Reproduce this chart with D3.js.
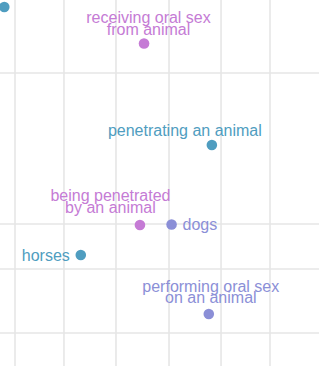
<!DOCTYPE html>
<html>
<head>
    <meta charset="UTF-8">
    <script src="https://d3js.org/d3.v7.min.js"></script>
    <style>
     body { margin: 0; background: #fff; }
    </style>
</head>

<body>
    <div id="chart"></div>
    <script>
     // Chart data (units are arbitrary)
     const labels = [
         "",
         "receiving oral sex\nfrom animal",
         "penetrating an animal",
         "being penetrated\nby an animal",
         "dogs",
         "horses",
         "performing oral sex\non an animal"
     ];
     const groups = ["blue", "pink", "blue", "pink", "purple", "blue", "purple"];
     const xValues = [-2.1, 25.3, 38.6, 24.5, 30.7, 12.9, 38.0];
     const yValues = [65.2, 57.9, 37.6, 21.6, 21.7, 15.6, 3.8];
     const xTicks = [0, 9.6, 19.8, 30.2, 40.4, 50];
     const yTicks = [0, 12.8, 21.8, 52];

     // Where each label sits relative to its dot
     const labelLayout = [
         {dx: 0, dy: 0, anchor: "middle"},
         {dx: 4.5, dy: -9, anchor: "middle"},
         {dx: -27, dy: -9.5, anchor: "middle"},
         {dx: -29.5, dy: -12.5, anchor: "middle"},
         {dx: 11, dy: 5.5, anchor: "start"},
         {dx: -11, dy: 5.5, anchor: "end"},
         {dx: 2, dy: -11, anchor: "middle"}
     ];

     const width = 319;
     const height = 366;
     const lineGap = 11.2;

     const color = d3.scaleOrdinal()
         .domain(["blue", "pink", "purple"])
         .range(["#4f9dc0", "#c57bd5", "#8b8fd7"]);

     const x = d3.scaleLinear().domain([0, 50]).range([15, 270]);
     const y = d3.scaleLinear().domain([0, 52]).range([333, 73]);

     let svg = d3.select("#chart").append("svg")
         .attr("width", width)
         .attr("height", height);

     // grid
     svg.append("g")
        .selectAll("line.vgrid")
        .data(xTicks)
        .enter()
        .append("line")
        .attr("class", "vgrid")
        .attr("x1", d => x(d)).attr("x2", d => x(d))
        .attr("y1", 0).attr("y2", height)
        .attr("stroke", "#e6e6e6")
        .attr("stroke-width", 1.6);

     svg.append("g")
        .selectAll("line.hgrid")
        .data(yTicks)
        .enter()
        .append("line")
        .attr("class", "hgrid")
        .attr("x1", 0).attr("x2", width)
        .attr("y1", d => y(d)).attr("y2", d => y(d))
        .attr("stroke", "#e6e6e6")
        .attr("stroke-width", 1.6);

     let data = labels.map((l, i) => ({
         label: l,
         group: groups[i],
         x: xValues[i],
         y: yValues[i],
         pos: labelLayout[i]
     }));

     svg.append("g")
        .selectAll("circle")
        .data(data)
        .enter()
        .append("circle")
        .attr("cx", d => x(d.x))
        .attr("cy", d => y(d.y))
        .attr("r", 5.3)
        .attr("fill", d => color(d.group));

     let texts = svg.append("g")
        .selectAll("text")
        .data(data.filter(d => d.label))
        .enter()
        .append("text")
        .attr("text-anchor", d => d.pos.anchor)
        .attr("fill", d => color(d.group))
        .style("font-family", "'Liberation Sans', Arial, sans-serif")
        .style("font-size", "16px");

     texts.each(function(d) {
         let lines = d.label.split("\n");
         let t = d3.select(this);
         // anchor the last line's baseline, stack the others above it
         lines.forEach((line, j) => {
             t.append("tspan")
              .attr("x", x(d.x) + d.pos.dx)
              .attr("y", y(d.y) + d.pos.dy - (lines.length - 1 - j) * lineGap)
              .text(line);
         });
     });
    </script>
</body>

</html>
